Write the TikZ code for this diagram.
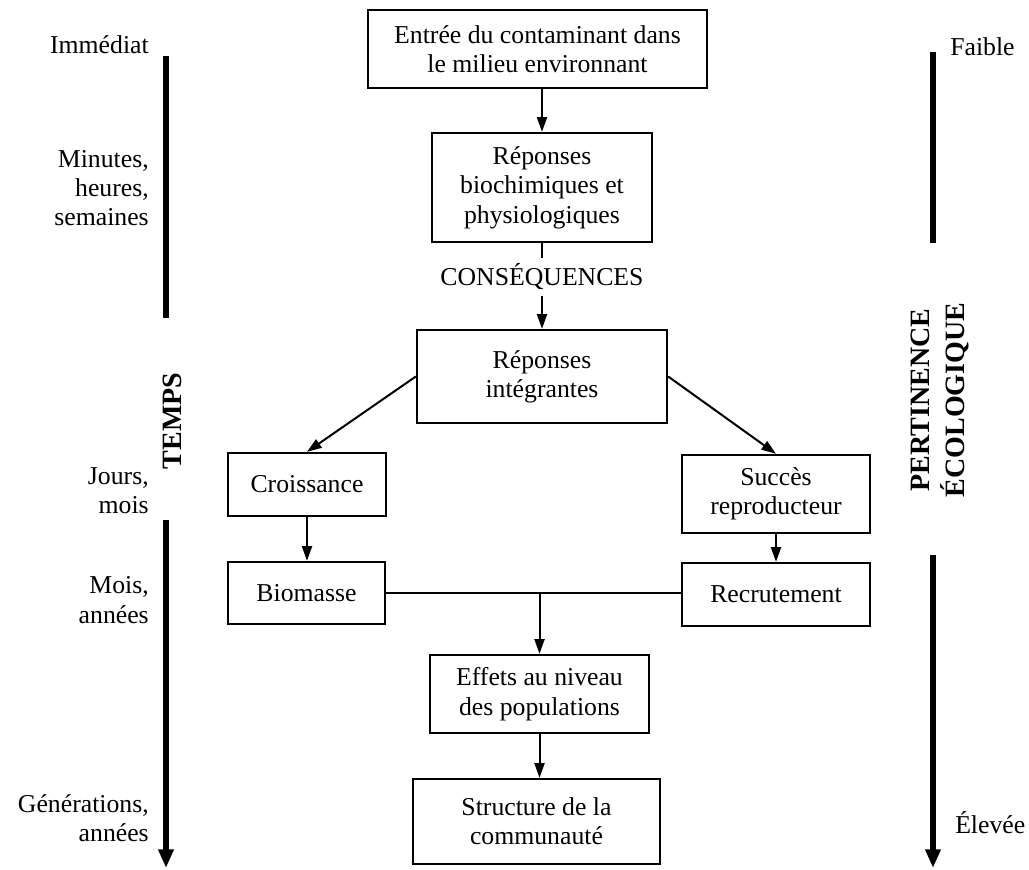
\documentclass[tikz,border=0pt]{standalone}
\usepackage{fontspec}
\setmainfont{Liberation Serif}
\usetikzlibrary{arrows.meta}
\begin{document}
\begin{tikzpicture}[x=0.75pt,y=-0.75pt,
  every node/.style={font=\fontsize{19.3}{22}\selectfont},
  box/.style={draw, line width=1.8pt, inner sep=0pt, align=center},
  conn/.style={line width=1.5pt, -{Triangle[length=11pt,width=7.5pt]}},
  plain/.style={line width=1.5pt},
  axisline/.style={line width=5pt},
  axisarrow/.style={line width=5pt, -{Triangle[length=14pt,width=11pt]}},
  lbl/.style={align=right, anchor=east, inner sep=0pt},
  rlbl/.style={anchor=base west, inner sep=0pt},
  head/.style={font=\fontsize{21}{26.25}\bfseries\selectfont, rotate=90, align=center, inner sep=0pt}
]
\useasboundingbox (0,0) rectangle (1029,869);

% boxes
\node[box, minimum width=254.25pt, minimum height=58.5pt] (b1) at (537.5,49) {Entrée du contaminant dans\\le milieu environnant};
\node[box, minimum width=165pt, minimum height=81.75pt] (b2) at (542,187.5) {Réponses\\biochimiques et\\physiologiques};
\node[inner sep=4pt] (cq) at (542,277) {CONSÉQUENCES};
\node[box, minimum width=187.5pt, minimum height=69.75pt] (b3) at (542,376.5) {Réponses\\intégrantes};
\node[box, minimum width=118.5pt, minimum height=47.25pt] (croiss) at (307,484.5) {Croissance};
\node[box, minimum width=141pt, minimum height=58.5pt] (succ) at (776,494) {Succès\\reproducteur};
\node[box, minimum width=117.75pt, minimum height=46.5pt] (biom) at (306.5,593) {Biomasse};
\node[box, minimum width=141pt, minimum height=47.25pt] (recru) at (776,594.5) {Recrutement};
\node[box, minimum width=164.25pt, minimum height=58.5pt] (eff) at (539.5,694) {Effets au niveau\\des populations};
\node[box, minimum width=185.25pt, minimum height=63.75pt] (struct) at (536.5,821.5) {Structure de la\\communauté};

% connectors
\draw[conn] (b2.north |- b1.south) -- (b2.north);
\draw[plain] (b2.south) -- (cq.north);
\draw[conn] (cq.south) -- (b3.north);
\draw[conn] (b3.west) -- (croiss.north);
\draw[conn] (b3.east) -- (succ.north);
\draw[conn] (croiss.south) -- (croiss.south |- biom.north);
\draw[conn] (succ.south) -- (succ.south |- recru.north);
\draw[plain] (biom.east) -- (recru.west |- biom.east);
\coordinate (j) at (eff.north |- biom.east);
\draw[conn] (j) -- (eff.north);
\draw[conn] (eff.south) -- (eff.south |- struct.north);

% left axis
\coordinate (l1a) at (166,56);
\coordinate (l1b) at (166,318);
\coordinate (l2a) at (166,520);
\coordinate (l2b) at (166,868);
\draw[axisline] (l1a) -- (l1b);
\draw[axisarrow] (l2a) -- (l2b);
\node[head] (temps) at (172,421) {TEMPS};

\node[anchor=base east, inner sep=0pt] (imm) at (149,53) {Immédiat};
\node[lbl] (minu) at (149,188) {Minutes,\\heures,\\semaines};
\node[lbl] (jours) at (149,491) {Jours,\\mois};
\node[lbl] (mois) at (149,600) {Mois,\\années};
\node[lbl] (gen) at (149,818) {Générations,\\années};

% right axis
\coordinate (r1a) at (933,52);
\coordinate (r1b) at (933,243);
\coordinate (r2a) at (933,555);
\coordinate (r2b) at (933,868);
\draw[axisline] (r1a) -- (r1b);
\draw[axisarrow] (r2a) -- (r2b);
\node[head] (pert) at (940,400) {PERTINENCE\\ÉCOLOGIQUE};
\node[rlbl] (faible) at (950,55) {Faible};
\node[rlbl] (elev) at (955,833) {Élevée};
\end{tikzpicture}
\end{document}
